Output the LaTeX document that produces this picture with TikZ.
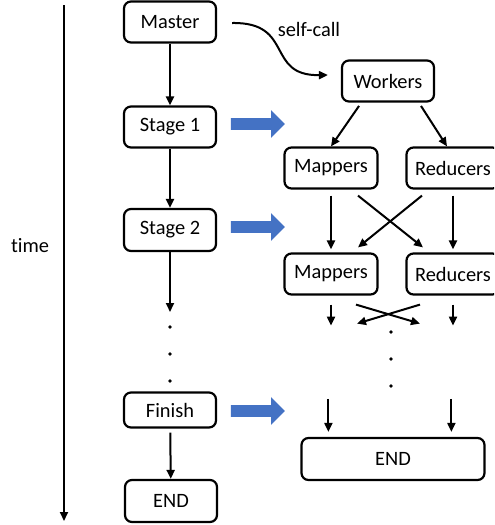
\documentclass[tikz,border=0pt]{standalone}
\usepackage{fontspec}
\setmainfont{Carlito}[Ligatures=NoCommon]
\usepackage{xcolor}
\usetikzlibrary{
    shapes.arrows,
    arrows.meta,
    positioning,
    calc
}
\definecolor{pushblue}{HTML}{4472C4}

\begin{document}
\begin{tikzpicture}[
        x=0.5pt, y=-0.5pt,
        font=\fontsize{10.2}{12}\selectfont,
        box/.style={draw, line width=1.1pt, rounded corners=3.5pt, minimum width=46pt, minimum height=20.5pt, inner sep=0pt},
        flow/.style={line width=1pt, -{Triangle[length=4.5pt, width=4pt]}},
        push/.style={single arrow, fill=pushblue, inner sep=2.75pt, single arrow head extend=4pt, single arrow head indent=0pt, minimum height=27pt}
    ]
        \useasboundingbox (0,0) rectangle (494,525);
        \clip (0,0) rectangle (494,525);

        % Time axis
        \coordinate (tTop) at (64,5);
        \coordinate (tBot) at (64,521);
        \draw[flow] (tTop) -- (tBot);
        \node (timeLabel) at (30,246) {time};

        % Master side
        \node[box] (master) at (170,22) {Master};
        \node[box] (stage1) at (170,127) {Stage 1};
        \node[box, minimum height=21pt] (stage2) at (170,230) {Stage 2};
        \node[box, minimum height=17.5pt] (finish) at (170,410) {Finish};
        \node[box, minimum height=21pt] (endL) at (171,501) {END};

        \draw[flow] (master) -- (stage1);
        \draw[flow] (stage1) -- (stage2);
        \coordinate (more) at (170,312);
        \draw[flow] (stage2) -- (more);
        \foreach \y in {327,354,381} {
            \fill (170,\y) circle (0.9pt);
        }
        \draw[flow, shorten <=2pt] (finish) -- (endL);

        % Blue arrows
        \foreach \i/\y in {1/124, 2/227, 3/411} {
            \node[push] (push\i) at (255,\y) {};
        }

        % Workers side
        \node[box] (workers) at (388,81) {Workers};
        \draw[flow] ($(master.east)+(15,1)$) .. controls (295,22) and (265,76) .. ($(workers.west)+(-13,-6)$);
        \node (selfcall) at (309,29) {self-call};

        \node[box, minimum width=46.5pt] (map1) at (331,168) {Mappers};
        \node[box, minimum width=46.5pt] (red1) at (453,168) {Reducers};
        \node[box, minimum width=46.5pt] (map2) at (331,274) {Mappers};
        \node[box, minimum width=46.5pt] (red2) at (453,274) {Reducers};

        \draw[flow, shorten <=2pt] (workers.219) -- (map1.north);
        \draw[flow, shorten <=2pt] (workers.325) -- ($(red1.north)+(-6,0)$);

        % Stage 1 to stage 2
        \draw[flow] ($(map1.south)+(0,6)$) -- ($(map2.north)+(0,-3)$);
        \draw[flow] ($(map1.south)+(27,6)$) -- ($(red2.north)+(-30,-5)$);
        \draw[flow] ($(red1.south)+(-31,6)$) -- ($(map2.north)+(27,-5)$);
        \draw[flow] ($(red1.south)+(0,6)$) -- ($(red2.north)+(0,-3)$);

        % Stage 2 onwards
        \draw[flow] ($(map2.south)+(0,9)$) -- ++(0,21);
        \draw[flow] ($(map2.south)+(25,9)$) -- ($(red2.south)+(-33,28)$);
        \draw[flow] ($(red2.south)+(-33,9)$) -- ($(map2.south)+(26,28)$);
        \draw[flow] ($(red2.south)+(0,9)$) -- ++(0,21);
        \foreach \y in {332,359,386} {
            \fill (391,\y) circle (0.9pt);
        }

        % End
        \node[box, minimum width=91.5pt, minimum height=21pt] (endR) at (393,459) {END};
        \draw[flow] ($(endR.north west)+(28,-38)$) -- ($(endR.north west)+(28,-5)$);
        \draw[flow] ($(endR.north west)+(151,-38)$) -- ($(endR.north west)+(151,-5)$);
    \end{tikzpicture}
\end{document}
